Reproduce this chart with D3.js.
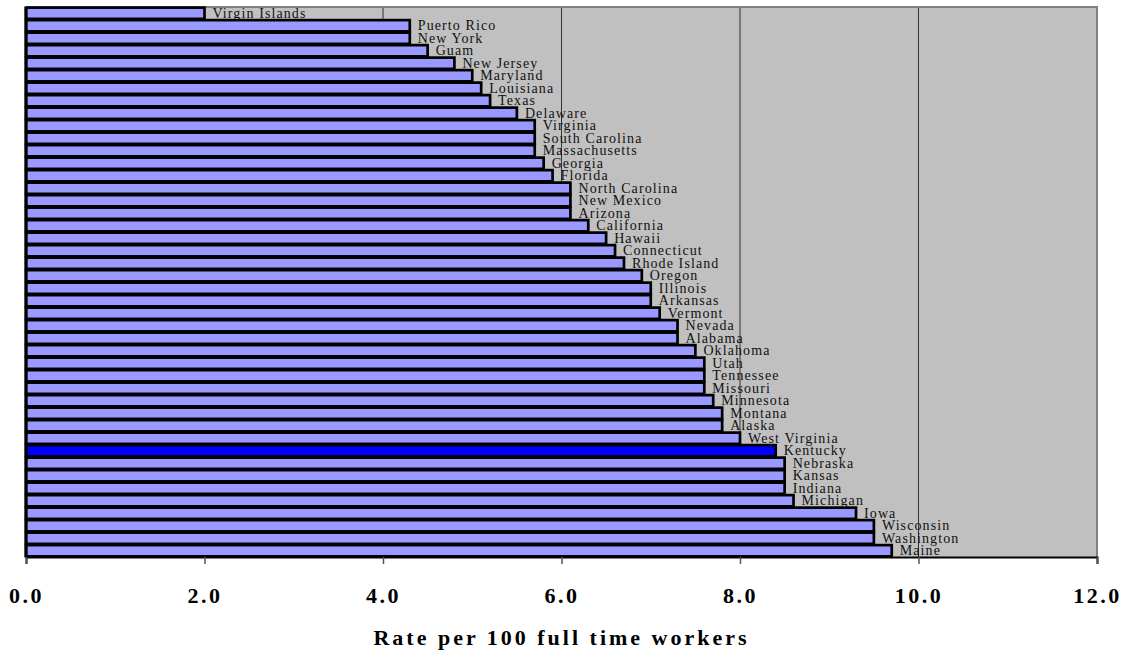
<!DOCTYPE html>
<html>
<head>
<meta charset="utf-8">
<script src="https://cdn.jsdelivr.net/npm/d3@7"></script>
<style>
  html, body { margin: 0; padding: 0; background: #fff; }
  svg { display: block; }
</style>
</head>
<body>
<svg id="chart" width="1124" height="656"></svg>
<script>
// States / territories, ordered top to bottom
const states = [
  "Virgin Islands", "Puerto Rico", "New York", "Guam", "New Jersey", "Maryland",
  "Louisiana", "Texas", "Delaware", "Virginia", "South Carolina", "Massachusetts",
  "Georgia", "Florida", "North Carolina", "New Mexico", "Arizona", "California",
  "Hawaii", "Connecticut", "Rhode Island", "Oregon", "Illinois", "Arkansas",
  "Vermont", "Nevada", "Alabama", "Oklahoma", "Utah", "Tennessee", "Missouri",
  "Minnesota", "Montana", "Alaska", "West Virginia", "Kentucky", "Nebraska",
  "Kansas", "Indiana", "Michigan", "Iowa", "Wisconsin", "Washington", "Maine"
];

// Rate per 100 full time workers
const rates = [
  2.0, 4.3, 4.3, 4.5, 4.8, 5.0,
  5.1, 5.2, 5.5, 5.7, 5.7, 5.7,
  5.8, 5.9, 6.1, 6.1, 6.1, 6.3,
  6.5, 6.6, 6.7, 6.9, 7.0, 7.0,
  7.1, 7.3, 7.3, 7.5, 7.6, 7.6, 7.6,
  7.7, 7.8, 7.8, 8.0, 8.4, 8.5,
  8.5, 8.5, 8.6, 9.3, 9.5, 9.5, 9.7
];

const highlighted = ["Kentucky"];

const tickValues = [0, 2, 4, 6, 8, 10, 12];
const tickLabels = ["0.0", "2.0", "4.0", "6.0", "8.0", "10.0", "12.0"];
const axisTitle = "Rate per 100 full time workers";

const rows = states.map((s, i) => ({ state: s, rate: rates[i] }));

const serif = "'Liberation Serif', 'Times New Roman', serif";
const svg = d3.select("#chart");
const plot = { left: 26, right: 1097, top: 7, bottom: 557 };

const x = d3.scaleLinear().domain([0, 12]).range([plot.left, plot.right]);
const y = d3.scaleBand()
  .domain(states)
  .range([plot.top, plot.bottom])
  .paddingInner(0.1)
  .paddingOuter(0.05);

// plot background
svg.append("rect")
  .attr("x", plot.left).attr("y", plot.top)
  .attr("width", plot.right - plot.left).attr("height", plot.bottom - plot.top)
  .attr("fill", "#c0c0c0");

// vertical gridlines
svg.append("g")
  .selectAll("line")
  .data(tickValues.slice(1, -1))
  .join("line")
  .attr("x1", d => x(d)).attr("x2", d => x(d))
  .attr("y1", plot.top).attr("y2", plot.bottom)
  .attr("stroke", "#333")
  .attr("stroke-width", 1);

// plot frame (top and right)
svg.append("path")
  .attr("d", `M${plot.left},${plot.top}H${plot.right}V${plot.bottom}`)
  .attr("fill", "none")
  .attr("stroke", "#808080")
  .attr("stroke-width", 2);

// bars
svg.append("g")
  .selectAll("rect")
  .data(rows)
  .join("rect")
  .attr("x", x(0))
  .attr("y", d => y(d.state))
  .attr("width", d => x(d.rate) - x(0))
  .attr("height", y.bandwidth())
  .attr("fill", d => highlighted.includes(d.state) ? "#0000ff" : "#9999ff")
  .attr("stroke", "#000")
  .attr("stroke-width", 2.7);

// bar labels
svg.append("g")
  .selectAll("text")
  .data(rows)
  .join("text")
  .attr("x", d => x(d.rate) + 8)
  .attr("y", d => y(d.state) + y.bandwidth() / 2 + 4.5)
  .attr("font-family", serif)
  .attr("font-size", 14)
  .attr("letter-spacing", 1.1)
  .attr("fill", "#111")
  .text(d => d.state);

// left edge line
svg.append("line")
  .attr("x1", plot.left).attr("x2", plot.left)
  .attr("y1", plot.top).attr("y2", plot.bottom)
  .attr("stroke", "#000").attr("stroke-width", 3);

// x axis
const xAxis = d3.axisBottom(x)
  .tickValues(tickValues)
  .tickFormat((d, i) => tickLabels[i])
  .tickSize(7)
  .tickPadding(23);

const gx = svg.append("g")
  .attr("transform", `translate(0,${plot.bottom})`)
  .call(xAxis);

gx.select(".domain").attr("stroke", "#000").attr("stroke-width", 2);
gx.selectAll(".tick line").attr("stroke", "#555").attr("stroke-width", 1.5);
gx.selectAll(".tick text")
  .attr("font-family", serif)
  .attr("font-weight", "bold")
  .attr("font-size", 22)
  .attr("letter-spacing", 2.5)
  .attr("fill", "#000");

// axis title
svg.append("text")
  .attr("x", (plot.left + plot.right) / 2)
  .attr("y", 645)
  .attr("text-anchor", "middle")
  .attr("font-family", serif)
  .attr("font-weight", "bold")
  .attr("font-size", 22)
  .attr("letter-spacing", 3)
  .attr("fill", "#000")
  .text(axisTitle);
</script>
</body>
</html>
